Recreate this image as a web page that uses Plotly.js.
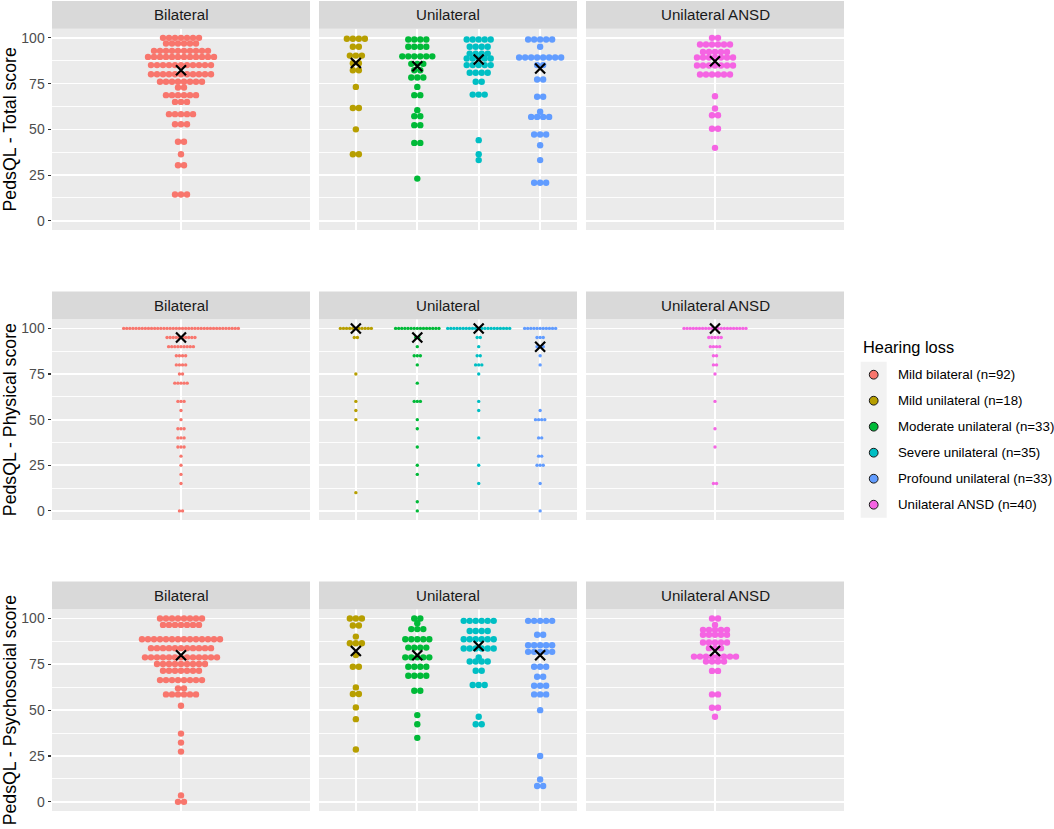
<!DOCTYPE html>
<html>
<head>
<meta charset="utf-8">
<script src="https://cdn.plot.ly/plotly-3.0.1.min.js"></script>
<style>
  html, body { margin: 0; padding: 0; background: #fff; }
  #chart { width: 1054px; height: 829px; }
</style>
</head>
<body>
<div id="chart"></div>
<script>
// groups, in legend order
var groupNames = ["Mild bilateral (n=92)", "Mild unilateral (n=18)", "Moderate unilateral (n=33)",
  "Severe unilateral (n=35)", "Profound unilateral (n=33)", "Unilateral ANSD (n=40)"];
var groupColors = ["#F8766D", "#B79F00", "#00BA38", "#00BFC4", "#619CFF", "#F564E3"];
var facetNames = ["Bilateral", "Unilateral", "Unilateral ANSD"];
var groupFacet = [0, 1, 1, 1, 1, 2];
var groupSlot = [1, 1, 2, 3, 4, 1];
var measureTitles = ["PedsQL - Total score", "PedsQL - Physical score", "PedsQL - Psychosocial score"];

// total score: stacked levels and how many children sit at each one
var totalLevels = [
  [100, 96.9, 92.9, 89.6, 85.1, 80.1, 76.0, 72.9, 68.7, 65.0, 58.3, 52.8, 43.2, 36.4, 30.4, 14.4],
  [99.5, 95.1, 90.3, 86.1, 82.3, 73.2, 61.7, 50.0, 36.4],
  [99.1, 95.1, 89.9, 85.8, 82.3, 78.3, 73.2, 68.7, 60.5, 57.2, 52.3, 42.6, 23.1],
  [99.1, 95.1, 91.4, 88.7, 85.1, 80.9, 76.0, 69.0, 44.1, 36.4, 33.2],
  [99.1, 95.1, 89.3, 85.1, 77.2, 67.8, 59.6, 56.8, 47.2, 41.3, 33.2, 20.8],
  [100, 96.4, 92.3, 89.3, 84.9, 80.0, 68.1, 61.4, 57.7, 50.3, 39.9]
];
var totalCounts = [
  [7, 6, 10, 12, 11, 11, 8, 2, 6, 3, 5, 3, 2, 1, 2, 3],
  [4, 2, 3, 2, 2, 1, 2, 1, 2],
  [4, 4, 6, 3, 2, 3, 1, 2, 1, 2, 2, 2, 1],
  [5, 4, 4, 5, 5, 4, 2, 3, 1, 1, 1],
  [5, 1, 8, 2, 2, 2, 1, 4, 3, 1, 1, 3],
  [2, 6, 5, 7, 7, 6, 1, 1, 2, 2, 1]
];
var totalMedian = [82.3, 86.3, 84.5, 88.2, 83.2, 87.2];

// physical score
var physicalLevels = [
  [100, 95, 90, 85, 80, 75, 70, 60, 55, 50, 45, 40, 35, 30, 25, 20, 15, 0],
  [100, 95, 75, 60, 55, 50, 10],
  [100, 95, 90, 85, 80, 70, 60, 50, 45, 35, 25, 20, 5, 0],
  [100, 95, 90, 85, 80, 75, 60, 55, 40, 25, 15],
  [100, 95, 90, 85, 80, 55, 50, 40, 30, 25, 15, 0],
  [100, 95, 90, 85, 80, 75, 60, 45, 35, 15]
];
var physicalCounts = [
  [38, 10, 9, 4, 4, 2, 5, 3, 1, 1, 3, 3, 3, 1, 1, 1, 1, 2],
  [11, 2, 1, 1, 1, 1, 1],
  [15, 2, 1, 3, 1, 1, 3, 1, 1, 1, 1, 1, 1, 1],
  [21, 2, 1, 2, 3, 1, 1, 1, 1, 1, 1],
  [11, 3, 3, 1, 1, 1, 4, 2, 2, 3, 1, 1],
  [21, 5, 4, 2, 2, 1, 1, 1, 1, 2]
];
var physicalMedian = [95, 100, 95, 100, 90, 100];

// psychosocial score
var psychoLevels = [
  [100, 96.5, 88.7, 83.8, 78.8, 75.2, 71.5, 66.4, 61.9, 58.6, 52.4, 37.2, 32.3, 27.4, 3.5, 0],
  [100, 96.2, 90.1, 86.5, 80.1, 73.7, 62.4, 58.8, 51.5, 45.1, 28.5],
  [100, 97.4, 94.2, 88.7, 84.1, 78.8, 73.7, 68.8, 60.6, 47.3, 42.3, 34.9],
  [98.7, 93.2, 88.7, 83.6, 78.8, 76.5, 71.5, 63.7, 46.4, 42.3],
  [98.7, 91.1, 85.4, 81.8, 73.7, 68.2, 63.3, 58.6, 50.0, 25.0, 12.2, 8.6],
  [100, 96.5, 93.8, 91.1, 86.9, 83.8, 79.2, 76.5, 71.4, 58.6, 51.3, 46.4]
];
var psychoCounts = [
  [8, 7, 14, 11, 13, 9, 7, 8, 2, 6, 1, 1, 1, 1, 1, 2],
  [3, 2, 1, 3, 1, 2, 1, 2, 1, 1, 1],
  [2, 1, 3, 5, 4, 5, 4, 4, 2, 1, 1, 1],
  [6, 4, 6, 6, 1, 4, 2, 3, 1, 2],
  [5, 2, 5, 5, 3, 2, 3, 3, 1, 1, 1, 2],
  [2, 1, 5, 5, 5, 3, 8, 4, 2, 2, 2, 1]
];
var psychoMedian = [79.9, 82.3, 79.9, 85.0, 79.9, 82.3];

var measureLevels = [totalLevels, physicalLevels, psychoLevels];
var measureCounts = [totalCounts, physicalCounts, psychoCounts];
var measureMedian = [totalMedian, physicalMedian, psychoMedian];

// page geometry (pixels)
var W = 1054, H = 829;
var colPx = [[52, 310], [319, 577], [586, 844]];
var rowPx = [[28.7, 230], [319.3, 520], [609.3, 811]];
var stripH = 27.7;
var dotPitch = [6, 3.1, 6];
var dotSize = [6.4, 3.4, 6.4];
var FONT = "Liberation Sans, Arial, sans-serif";

function fx(px) { return px / W; }
function fy(px) { return 1 - px / H; }
function xRange(c) { return c === 1 ? [0.4, 4.6] : [0.4, 1.6]; }
function pxPerUnit(c) {
  var r = xRange(c);
  return (colPx[c][1] - colPx[c][0]) / (r[1] - r[0]);
}
function axisId(k) { return k > 1 ? String(k) : ""; }

var layout = {
  width: W, height: H,
  margin: { l: 0, r: 0, t: 0, b: 0 },
  paper_bgcolor: "#FFFFFF",
  plot_bgcolor: "#EBEBEB",
  showlegend: false,
  font: { family: FONT, color: "#000" },
  shapes: [],
  annotations: []
};
var traces = [];

for (var r = 0; r < 3; r++) {
  for (var c = 0; c < 3; c++) {
    var k = r * 3 + c + 1;
    var id = axisId(k);
    layout["xaxis" + id] = {
      domain: [fx(colPx[c][0]), fx(colPx[c][1])],
      range: xRange(c),
      tickvals: c === 1 ? [1, 2, 3, 4] : [1],
      showticklabels: false, ticks: "",
      showgrid: true, gridcolor: "#FFFFFF", gridwidth: 1.7,
      zeroline: false, showline: false, fixedrange: true,
      anchor: "y" + id
    };
    var ya = {
      domain: [fy(rowPx[r][1]), fy(rowPx[r][0])],
      range: [-5, 105],
      tickmode: "linear", tick0: 0, dtick: 25,
      showticklabels: c === 0,
      ticks: c === 0 ? "outside" : "",
      ticklen: 3.5, tickwidth: 1.1, tickcolor: "#333333",
      tickfont: { family: FONT, size: 14, color: "#4D4D4D" },
      showgrid: true, gridcolor: "#FFFFFF", gridwidth: 1.7,
      minor: { tick0: 0, dtick: 12.5, ticks: "", showgrid: true, gridcolor: "#FFFFFF", gridwidth: 0.9 },
      zeroline: false, showline: false, fixedrange: true,
      anchor: "x" + id
    };
    if (c === 0) {
      ya.title = { text: measureTitles[r], font: { family: FONT, size: 17.7, color: "#000" }, standoff: 6 };
    }
    layout["yaxis" + id] = ya;

    // facet strip
    layout.shapes.push({
      type: "rect", xref: "paper", yref: "paper",
      x0: fx(colPx[c][0]), x1: fx(colPx[c][1]),
      y0: fy(rowPx[r][0]), y1: fy(rowPx[r][0] - stripH),
      fillcolor: "#D9D9D9", line: { width: 0 }
    });
    layout.annotations.push({
      xref: "paper", yref: "paper",
      x: fx((colPx[c][0] + colPx[c][1]) / 2), y: fy(rowPx[r][0] - stripH / 2),
      xanchor: "center", yanchor: "middle", showarrow: false,
      text: facetNames[c], font: { family: FONT, size: 15.1, color: "#1A1A1A" }
    });
  }

  // stacked dots, centred on each group's line
  for (var g = 0; g < groupNames.length; g++) {
    var cf = groupFacet[g];
    var kk = r * 3 + cf + 1;
    var step = dotPitch[r] / pxPerUnit(cf);
    var lv = measureLevels[r][g], ct = measureCounts[r][g];
    var xs = [], ys = [];
    lv.forEach(function(level, j) {
      var n = ct[j];
      for (var i = 0; i < n; i++) {
        xs.push(groupSlot[g] + (i - (n - 1) / 2) * step);
        ys.push(level);
      }
    });
    traces.push({
      type: "scatter", mode: "markers",
      x: xs, y: ys,
      xaxis: "x" + axisId(kk), yaxis: "y" + axisId(kk),
      marker: { color: groupColors[g], size: dotSize[r], line: { width: 0 } },
      name: groupNames[g], hoverinfo: "skip"
    });
  }

  // medians as black crosses
  for (var c2 = 0; c2 < 3; c2++) {
    var mx = [], my = [];
    for (var g2 = 0; g2 < groupNames.length; g2++) {
      if (groupFacet[g2] !== c2) continue;
      mx.push(groupSlot[g2]);
      my.push(measureMedian[r][g2]);
    }
    var k2 = r * 3 + c2 + 1;
    traces.push({
      type: "scatter", mode: "markers",
      x: mx, y: my,
      xaxis: "x" + axisId(k2), yaxis: "y" + axisId(k2),
      marker: { symbol: "x-thin", size: 10, color: "#000", line: { width: 2.2, color: "#000" } },
      hoverinfo: "skip"
    });
  }
}

// legend drawn by hand to get ggplot's grey key column
var legX = 860.7, legTop = 361.7, keyH = 26;
layout.annotations.push({
  xref: "paper", yref: "paper", x: fx(861), y: fy(346.7),
  xanchor: "left", yanchor: "middle", showarrow: false,
  text: "Hearing loss", font: { family: FONT, size: 16.4, color: "#000" }
});
layout.shapes.push({
  type: "rect", xref: "paper", yref: "paper",
  x0: fx(legX), x1: fx(legX + keyH),
  y0: fy(legTop + keyH * groupNames.length), y1: fy(legTop),
  fillcolor: "#F2F2F2", line: { width: 0 }
});
groupNames.forEach(function(name, i) {
  var cx = legX + keyH / 2, cy = legTop + keyH * (i + 0.5), rad = 4.4;
  layout.shapes.push({
    type: "circle", xref: "paper", yref: "paper",
    x0: fx(cx - rad), x1: fx(cx + rad), y0: fy(cy + rad), y1: fy(cy - rad),
    fillcolor: groupColors[i], line: { color: "#1A1A1A", width: 1 }
  });
  layout.annotations.push({
    xref: "paper", yref: "paper", x: fx(896), y: fy(cy),
    xanchor: "left", yanchor: "middle", showarrow: false,
    text: name, font: { family: FONT, size: 13.3, color: "#000" }
  });
});

Plotly.newPlot("chart", traces, layout, { staticPlot: true, displayModeBar: false });
</script>
</body>
</html>
